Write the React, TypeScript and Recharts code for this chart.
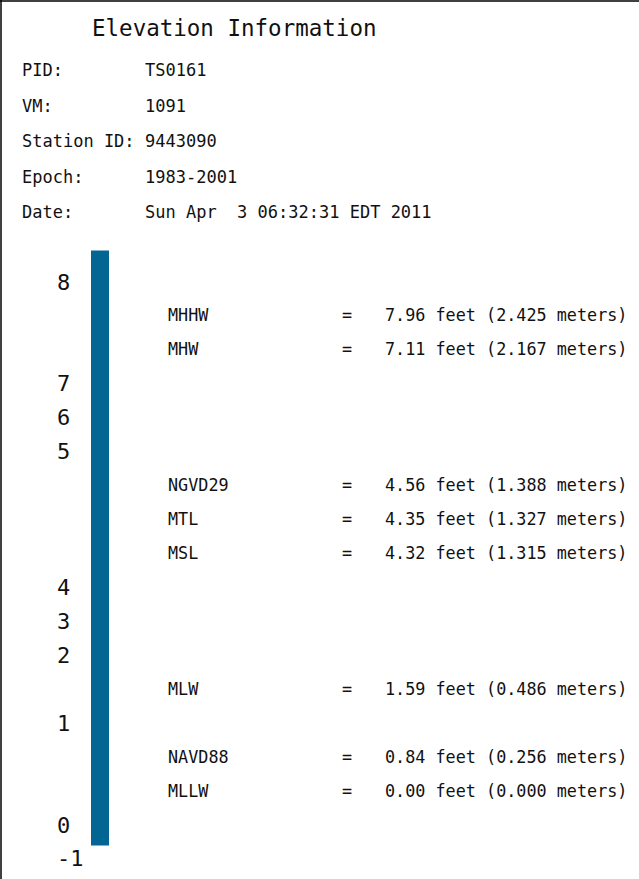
import React from "react";
import { ComposedChart, Bar, XAxis, YAxis } from "recharts";

// ---- header text ----
const titleText = "Elevation Information";
const infoLabels = ["PID:", "VM:", "Station ID:", "Epoch:", "Date:"];
const infoValues = ["TS0161", "1091", "9443090", "1983-2001", "Sun Apr  3 06:32:31 EDT 2011"];

// ---- elevation column (rows counted from the top of the column) ----
const scaleLabels = ["8", "7", "6", "5", "4", "3", "2", "1", "0", "-1"];
const scaleRows = [0, 3, 4, 5, 9, 10, 11, 13, 16, 17];

const datumNames = ["MHHW", "MHW", "NGVD29", "MTL", "MSL", "MLW", "NAVD88", "MLLW"];
const datumRows = [1, 2, 6, 7, 8, 12, 14, 15];
const datumFeet = ["7.96", "7.11", "4.56", "4.35", "4.32", "1.59", "0.84", "0.00"];
const datumMeters = ["2.425", "2.167", "1.388", "1.327", "1.315", "0.486", "0.256", "0.000"];

const columnNames = ["column"];
const columnTopRow = [-0.91];
const columnBottomRow = [16.62];

const rowDomain: [number, number] = [-8.294, 17.604];

const data = columnNames.map((name, i) => ({
  name,
  span: [columnTopRow[i], columnBottomRow[i]],
}));

const allRows = [...scaleRows, ...datumRows].sort((a, b) => a - b);

const W = 639;
const H = 879;
const LEFT_AXIS_W = 82;
const PLOT_W = 36;
const RIGHT_W = W - LEFT_AXIS_W - PLOT_W;
const MONO = "'DejaVu Sans Mono', monospace";
const TEXT = "#111";

const RowTick = (props: any) => {
  const { y, payload } = props;
  const si = scaleRows.indexOf(payload.value);
  if (si >= 0) {
    return (
      <text x={LEFT_AXIS_W - 25} y={y + 8} fontFamily={MONO} fontSize={22} fill={TEXT} textAnchor="start">
        {scaleLabels[si]}
      </text>
    );
  }
  const di = datumRows.indexOf(payload.value);
  if (di < 0) return null;
  const x0 = LEFT_AXIS_W + PLOT_W;
  return (
    <g fontFamily={MONO} fontSize={16.8} fill={TEXT}>
      <text x={x0 + 50} y={y + 6}>{datumNames[di]}</text>
      <text x={x0 + 229} y={y + 6} textAnchor="middle">=</text>
      <text x={x0 + 267} y={y + 6}>{`${datumFeet[di]} feet (${datumMeters[di]} meters)`}</text>
    </g>
  );
};

export default function App() {
  return (
    <div style={{ position: "absolute", left: 0, top: 0, width: W, height: H, background: "#fff" }}>
      <svg width={W} height={H} style={{ position: "absolute", left: 0, top: 0 }}>
        <line x1={0} y1={1} x2={W} y2={1} stroke="#000" strokeWidth={1.5} />
        <line x1={1} y1={0} x2={1} y2={H} stroke="#000" strokeWidth={1.5} />
        <text x={92} y={36} fontFamily={MONO} fontSize={22.5} fill={TEXT}>{titleText}</text>
        {infoLabels.map((l, i) => (
          <g key={l} fontFamily={MONO} fontSize={17} fill={TEXT}>
            <text x={22} y={76 + i * 35.5}>{l}</text>
            <text x={145} y={76 + i * 35.5} style={{ whiteSpace: "pre" }}>{infoValues[i]}</text>
          </g>
        ))}
      </svg>
      <div style={{ position: "absolute", left: 0, top: 0 }}>
        <ComposedChart width={W} height={H} data={data} margin={{ top: 0, right: RIGHT_W, bottom: 0, left: 0 }}>
          <XAxis dataKey="name" type="category" hide />
          <YAxis
            type="number"
            domain={rowDomain}
            reversed
            width={LEFT_AXIS_W}
            ticks={allRows}
            interval={0}
            axisLine={false}
            tickLine={false}
            tick={<RowTick />}
          />
          <Bar dataKey="span" fill="#036592" barSize={18} isAnimationActive={false} />
        </ComposedChart>
      </div>
    </div>
  );
}
